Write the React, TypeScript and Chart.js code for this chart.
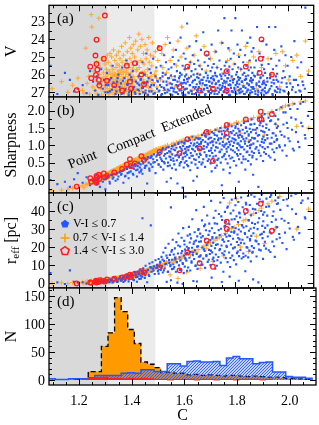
import React, { useEffect, useRef } from 'react';
import { Chart, registerables } from 'chart.js';
Chart.register(...registerables);

const W = 319;
const H = 425;
const FONT = '"Liberation Serif", "DejaVu Serif", serif';

// ---------- axes ----------
const C_MIN = 1.086;
const C_MAX = 2.1;
const C_TICKS = [1.2, 1.4, 1.6, 1.8, 2.0];
const POINT_END = 1.31;
const COMPACT_END = 1.49;

const V_TICKS = [23, 24, 25, 26, 27];
const SHARP_TICKS = [0.0, 0.5, 1.0, 1.5, 2.0];
const REFF_TICKS = [0, 10, 20, 30, 40];
const N_TICKS = [0, 50, 100, 150];

// ---------- histogram (bins of 0.025 starting at 1.085) ----------
const BIN_START = 1.085;
const BIN_WIDTH = 0.025;
const orangeCounts = [0, 0, 0, 0, 1, 2, 15, 15, 60, 84, 147, 122, 90, 65, 32, 28, 22, 13, 14, 12, 12, 9, 10, 8, 9, 8, 7, 8, 8, 7, 6, 7, 6, 5, 5, 4, 3, 3, 2, 1];
const blueCounts = [2, 1, 1, 2, 2, 2, 4, 8, 8, 8, 8, 12, 13, 12, 18, 18, 15, 15, 29, 29, 25, 33, 34, 32, 32, 33, 26, 39, 42, 38, 38, 29, 31, 32, 14, 14, 6, 5, 5, 3];
const redCounts = [0, 0, 0, 0, 0, 1, 3, 4, 5, 3, 3, 2, 3, 2, 3, 2, 1, 1, 0, 1, 1, 1, 0, 1, 1, 0, 1, 1, 0, 1, 1, 1, 0, 1, 0, 0, 0, 0, 0, 0];

// ---------- scatter points: [C, V, Sharpness, r_eff] ----------
const redPoints = [
  [1.192, 26.88, -0.19, -0.3], [1.244, 25.55, 0.05, 0.3], [1.248, 26.2, -0.05, 0.1], [1.264, 24.92, 0.0, 0.6],
  [1.268, 24.02, 0.12, 0.2], [1.268, 25.4, -0.08, 0.9], [1.271, 25.72, 0.08, 0.4], [1.266, 26.02, -0.02, 1.2],
  [1.277, 26.3, 0.15, 0.7], [1.279, 26.62, 0.03, 1.5], [1.296, 25.1, 0.19, 1.1], [1.3, 22.65, 0.07, 0.8],
  [1.308, 26.35, 0.12, 2.0], [1.336, 26.6, 0.22, 2.4], [1.366, 26.9, 0.32, 3.0], [1.384, 25.5, 0.45, 3.8],
  [1.396, 26.4, 0.6, 4.6], [1.4, 26.8, 0.4, 3.3], [1.415, 25.35, 0.48, 5.2], [1.44, 26.0, 0.69, 6.5],
  [1.45, 26.55, 0.58, 5.8], [1.51, 24.5, 0.81, 8.7], [1.586, 26.7, 0.77, 7.0], [1.616, 25.55, 1.18, 17],
  [1.663, 26.9, 0.91, 11], [1.69, 24.8, 1.39, 23.5], [1.714, 26.8, 0.55, 9], [1.767, 25.8, 1.59, 34],
  [1.767, 26.9, 1.35, 30], [1.84, 25.55, 1.75, 40], [1.897, 25.1, 1.97, 44], [1.893, 25.9, 1.75, 53],
  [1.9, 24.0, 1.75, 52], [1.94, 26.0, 1.9, 29],
];

const orangePoints = [
  [1.098, 26.8, -0.31, -0.5], [1.134, 26.4, -0.29, 0.1], [1.158, 27.0, -0.27, -0.3], [1.176, 26.6, -0.24, 0.2], [1.197, 26.2, -0.2, 0.0],
  [1.214, 26.9, -0.17, 0.4], [1.22, 27.05, -0.22, -0.2], [1.227, 24.5, -0.12, 0.3], [1.232, 26.5, -0.14, 0.8], [1.238, 26.1, -0.1, 0.1],
  [1.242, 27.1, -0.06, 0.5], [1.248, 22.6, -0.08, 1.0], [1.25, 23.3, -0.03, 0.2], [1.254, 26.7, -0.05, 0.7], [1.258, 25.8, 0.0, 0.4],
  [1.262, 26.9, -0.02, 0.9], [1.265, 26.3, 0.03, 0.2], [1.268, 25.3, 0.0, 1.1], [1.27, 27.1, 0.05, 0.6], [1.273, 26.6, -0.04, 0.3],
  [1.277, 22.8, 0.06, 1.2], [1.279, 26.0, 0.08, 0.5], [1.282, 25.6, 0.04, 0.9], [1.284, 26.8, 0.1, 1.4], [1.287, 27.15, 0.02, 0.4],
  [1.289, 26.4, 0.09, 1.0], [1.291, 25.1, 0.12, 0.7], [1.293, 26.2, 0.06, 1.6], [1.295, 25.9, 0.11, 0.2], [1.297, 26.95, 0.14, 1.1],
  [1.299, 26.6, 0.08, 0.8], [1.301, 25.4, 0.13, 1.3], [1.303, 26.1, 0.1, 0.5], [1.305, 27.0, 0.16, 1.8], [1.306, 25.7, 0.12, 1.0],
  [1.308, 26.5, 0.18, 1.4], [1.309, 24.9, 0.15, 0.6],
  [1.311, 26.8, 0.13, 1.2], [1.312, 26.0, 0.19, 0.8], [1.313, 25.3, 0.08, 1.6], [1.315, 26.4, 0.16, 1.1], [1.316, 27.1, 0.22, 0.5],
  [1.317, 25.8, 0.1, 1.9], [1.318, 26.6, 0.18, 1.3], [1.32, 24.8, 0.15, 0.9], [1.321, 26.2, 0.23, 1.5], [1.322, 26.9, 0.12, 2.1],
  [1.324, 25.5, 0.19, 1.0], [1.325, 26.5, 0.25, 1.7], [1.326, 25.0, 0.14, 1.2], [1.327, 27.0, 0.2, 0.7], [1.329, 26.1, 0.26, 1.8],
  [1.33, 25.7, 0.16, 1.4], [1.331, 26.7, 0.22, 2.3], [1.333, 24.6, 0.28, 1.1], [1.334, 26.3, 0.19, 1.6], [1.335, 25.9, 0.25, 2.0],
  [1.337, 27.15, 0.21, 1.3], [1.338, 25.2, 0.29, 1.9], [1.339, 26.6, 0.2, 2.5], [1.34, 26.0, 0.27, 1.5], [1.342, 25.6, 0.23, 2.2],
  [1.343, 26.85, 0.3, 1.7], [1.344, 24.9, 0.25, 2.6], [1.345, 26.4, 0.32, 1.9], [1.347, 25.4, 0.26, 1.4], [1.348, 26.2, 0.33, 2.4],
  [1.349, 27.0, 0.24, 2.0], [1.35, 25.8, 0.29, 2.8], [1.352, 26.5, 0.35, 1.8], [1.353, 24.7, 0.3, 2.3], [1.354, 26.1, 0.27, 2.9],
  [1.355, 25.5, 0.36, 2.1], [1.357, 26.7, 0.31, 2.6], [1.358, 25.1, 0.37, 1.9], [1.359, 26.3, 0.32, 3.0], [1.36, 27.1, 0.38, 2.4],
  [1.361, 25.9, 0.33, 2.7], [1.362, 26.6, 0.27, 2.2], [1.364, 24.4, 0.36, 3.1], [1.365, 26.0, 0.31, 2.5], [1.366, 25.3, 0.39, 2.9],
  [1.367, 26.9, 0.34, 2.0], [1.369, 25.7, 0.41, 3.3], [1.37, 26.4, 0.35, 2.6], [1.371, 24.9, 0.37, 3.5], [1.372, 26.2, 0.43, 2.8],
  [1.374, 27.05, 0.36, 3.1], [1.375, 25.5, 0.39, 2.4], [1.376, 26.7, 0.44, 3.7], [1.378, 24.2, 0.38, 2.9], [1.379, 26.1, 0.41, 3.4],
  [1.38, 25.2, 0.46, 3.0], [1.382, 26.5, 0.4, 2.7], [1.383, 25.8, 0.45, 3.9], [1.384, 26.85, 0.42, 3.2], [1.386, 24.7, 0.48, 3.6],
  [1.387, 26.3, 0.43, 2.9], [1.388, 25.4, 0.47, 4.1], [1.39, 26.0, 0.41, 3.3], [1.391, 27.1, 0.49, 3.8], [1.392, 25.6, 0.45, 3.0],
  [1.394, 23.9, 0.51, 4.2], [1.395, 26.6, 0.46, 3.5], [1.396, 25.1, 0.43, 4.0], [1.398, 26.2, 0.5, 3.4], [1.399, 24.5, 0.47, 4.4],
  [1.4, 25.9, 0.53, 3.7], [1.401, 26.8, 0.44, 3.1], [1.403, 25.3, 0.51, 4.5], [1.404, 26.4, 0.48, 3.9], [1.405, 24.8, 0.54, 4.2],
  [1.406, 25.7, 0.49, 3.6], [1.407, 27.0, 0.52, 4.8], [1.408, 26.1, 0.56, 4.0], [1.409, 24.3, 0.5, 3.8], [1.41, 25.5, 0.55, 4.6],
  [1.412, 26.3, 0.52, 4.1], [1.414, 25.0, 0.57, 4.9], [1.416, 26.7, 0.5, 3.9], [1.418, 24.1, 0.59, 5.3], [1.42, 25.8, 0.55, 4.5],
  [1.422, 26.9, 0.53, 4.0], [1.424, 25.3, 0.61, 5.5], [1.426, 24.6, 0.57, 4.8], [1.428, 26.1, 0.63, 5.1], [1.43, 23.7, 0.58, 4.4],
  [1.432, 25.6, 0.62, 5.8], [1.434, 26.5, 0.59, 4.9], [1.436, 24.4, 0.65, 6.0], [1.438, 25.2, 0.6, 5.2], [1.44, 26.8, 0.64, 5.6],
  [1.442, 24.0, 0.67, 6.3], [1.444, 25.9, 0.62, 5.0], [1.446, 26.3, 0.69, 6.5], [1.448, 24.8, 0.65, 5.7], [1.45, 25.4, 0.7, 6.1],
  [1.452, 27.05, 0.64, 5.4], [1.454, 24.3, 0.71, 6.8], [1.456, 26.0, 0.67, 6.2], [1.458, 25.1, 0.73, 7.0], [1.46, 26.6, 0.68, 5.9],
  [1.462, 24.6, 0.72, 6.6], [1.464, 25.7, 0.75, 7.2], [1.466, 26.4, 0.7, 6.1], [1.468, 23.9, 0.77, 7.5], [1.47, 25.3, 0.73, 6.9],
  [1.473, 26.9, 0.79, 7.8], [1.475, 24.9, 0.75, 7.1], [1.477, 26.1, 0.81, 8.0], [1.48, 25.5, 0.77, 7.4], [1.482, 24.2, 0.83, 8.4],
  [1.485, 26.5, 0.79, 7.7], [1.487, 25.0, 0.85, 8.7], [1.49, 26.0, 0.8, 8.1], [1.493, 24.7, 0.87, 9.0], [1.496, 25.8, 0.83, 8.5],
  [1.499, 26.7, 0.89, 9.3], [1.503, 25.2, 0.85, 8.8], [1.507, 24.5, 0.91, 9.6],
  [1.513, 26.3, 0.92, 9.9], [1.518, 24.8, 0.86, 10.5], [1.522, 25.6, 0.95, 9.2], [1.527, 26.9, 0.9, 11.0], [1.531, 24.3, 0.98, 10.1],
  [1.536, 25.9, 0.94, 11.6], [1.54, 23.9, 1.0, 10.8], [1.545, 26.5, 0.96, 12.0], [1.55, 25.2, 0.78, 4.5], [1.556, 26.1, 1.03, 11.4],
  [1.562, 24.6, 1.05, 12.7], [1.568, 26.7, 1.0, 12.2], [1.574, 25.5, 1.08, 13.5], [1.58, 24.1, 0.7, 2.5], [1.586, 26.4, 1.1, 13.0],
  [1.592, 25.0, 1.12, 14.4], [1.595, 23.3, 1.06, 13.8], [1.6, 26.8, 1.15, 14.9], [1.607, 25.7, 1.13, 15.6], [1.614, 24.5, 0.88, 6.0],
  [1.62, 26.2, 1.18, 16.3], [1.628, 25.3, 1.21, 15.8], [1.635, 26.9, 1.16, 17.2], [1.642, 24.9, 1.24, 17.9], [1.65, 23.8, 1.22, 16.8],
  [1.657, 26.0, 1.27, 18.6], [1.665, 25.5, 0.95, 8.0], [1.672, 26.6, 1.3, 19.8], [1.68, 24.4, 1.33, 20.5], [1.688, 25.8, 1.28, 19.2],
  [1.696, 26.9, 1.36, 21.6], [1.705, 25.1, 1.4, 22.4], [1.714, 26.4, 1.1, 12.0], [1.722, 24.7, 1.43, 23.8], [1.73, 25.6, 1.46, 24.6],
  [1.738, 26.8, 1.42, 25.4], [1.746, 24.2, 1.5, 26.2], [1.755, 25.9, 1.2, 15.0], [1.762, 26.5, 1.53, 27.6], [1.77, 25.2, 1.56, 28.8],
  [1.778, 24.6, 1.6, 44.5], [1.786, 26.2, 1.58, 30.2], [1.795, 25.4, 1.62, 31.0], [1.804, 26.9, 1.66, 46.8], [1.812, 24.9, 1.64, 32.5],
  [1.82, 25.7, 1.35, 20.0], [1.83, 26.6, 1.7, 34.6], [1.84, 24.4, 1.73, 35.2], [1.85, 25.3, 1.12, 17.5], [1.86, 26.3, 1.76, 37.8],
  [1.87, 25.0, 1.8, 38.5], [1.88, 26.8, 1.45, 26.0], [1.89, 24.7, 1.84, 40.2], [1.9, 25.6, 1.87, 41.6], [1.912, 26.4, 1.3, 22.0],
  [1.925, 25.1, 1.92, 44.0], [1.94, 26.0, 1.98, 45.5], [1.955, 24.8, 1.6, 31.0], [1.97, 26.7, 2.05, 48.0], [1.98, 24.7, 2.1, 53.0],
  [1.992, 25.5, 2.14, 55.0], [2.005, 26.3, 2.16, 58.0], [2.02, 25.2, 2.2, 60.0], [2.035, 24.9, 1.55, 30.0], [2.05, 26.1, 2.25, 62.0],
  [2.068, 24.1, 2.28, 65.0], [2.08, 25.8, 1.5, 41.0],
];

const orangeFaint = [
  [1.302, 26.75, 0.1, 0.9], [1.307, 26.3, 0.14, 1.3], [1.314, 27.05, 0.12, 0.7], [1.319, 26.55, 0.18, 1.5], [1.323, 25.95, 0.15, 1.1],
  [1.328, 26.85, 0.21, 1.8], [1.332, 26.4, 0.19, 1.3], [1.336, 27.1, 0.24, 2.1], [1.341, 26.65, 0.22, 1.6], [1.346, 26.1, 0.28, 2.2],
  [1.351, 26.95, 0.26, 1.9], [1.356, 26.45, 0.3, 2.5], [1.358, 25.75, 0.33, 2.1], [1.363, 26.8, 0.31, 2.8], [1.368, 26.25, 0.35, 2.4],
  [1.373, 27.0, 0.38, 3.1], [1.377, 26.55, 0.36, 2.7], [1.381, 25.9, 0.41, 3.3], [1.385, 26.95, 0.39, 2.9], [1.389, 26.35, 0.44, 3.6],
  [1.393, 26.75, 0.42, 3.2], [1.397, 27.15, 0.47, 3.9], [1.402, 26.15, 0.45, 3.5], [1.406, 26.6, 0.5, 4.2], [1.411, 27.0, 0.48, 3.8],
  [1.415, 26.3, 0.53, 4.6], [1.419, 26.85, 0.51, 4.2], [1.423, 25.7, 0.56, 4.9], [1.427, 26.5, 0.54, 4.5], [1.431, 27.05, 0.59, 5.3],
  [1.435, 26.2, 0.57, 4.9], [1.439, 26.7, 0.62, 5.7], [1.443, 26.95, 0.6, 5.2], [1.447, 26.4, 0.65, 6.1], [1.451, 25.85, 0.63, 5.6],
  [1.455, 26.6, 0.68, 6.5], [1.459, 27.1, 0.66, 6.0], [1.463, 26.1, 0.71, 6.9], [1.468, 26.75, 0.69, 6.4], [1.474, 26.3, 0.75, 7.4],
  [1.48, 26.9, 0.78, 7.9], [1.486, 26.45, 0.81, 8.3], [1.492, 27.0, 0.84, 8.8], [1.498, 26.2, 0.86, 9.1],
  [1.338, 26.05, 0.2, 1.7], [1.344, 26.55, 0.3, 2.0], [1.347, 26.75, 0.24, 2.6], [1.339, 26.9, 0.27, 2.2], [1.352, 25.95, 0.32, 1.6],
  [1.342, 26.3, 0.29, 2.9], [1.318, 26.95, 0.16, 1.0], [1.326, 26.2, 0.2, 1.4], [1.366, 26.7, 0.37, 2.6], [1.372, 25.85, 0.32, 3.0],
  [1.379, 26.45, 0.42, 3.3],
];

const bluePoints = [
  [1.092, 25.5, 0.0, 5.5], [1.118, 27.1, -0.12, 0.3], [1.147, 25.9, -0.05, -0.6], [1.166, 26.3, -0.2, 7.0], [1.182, 26.95, 0.02, 0.6], [1.196, 26.8, 0.2, 0.1],
  [1.215, 26.6, -0.08, 0.4], [1.23, 27.05, 0.08, -0.4], [1.243, 25.8, -0.15, 1.2], [1.255, 26.4, -0.03, 0.0],
  [1.263, 26.9, 0.0, 0.5], [1.269, 26.1, -0.12, 1.4], [1.275, 27.15, 0.05, 0.2], [1.281, 26.5, -0.2, 0.9], [1.286, 25.7, 0.1, 2.5],
  [1.292, 26.8, -0.05, 0.1], [1.297, 26.3, 0.02, 1.0], [1.302, 27.0, -0.27, 0.4], [1.308, 25.9, 0.07, 1.6], [1.313, 26.6, 0.12, 0.8],
  [1.319, 26.95, -0.1, 2.2], [1.324, 26.2, 0.15, 1.2], [1.33, 25.5, 0.04, 0.3], [1.336, 26.7, 0.18, 2.9], [1.341, 27.1, -0.02, 1.5],
  [1.347, 26.4, 0.2, 0.6], [1.352, 26.0, 0.1, 2.0], [1.358, 26.85, 0.24, 3.5],
  [1.362, 26.5, 0.15, 1.3], [1.366, 25.6, 0.26, 2.4], [1.371, 27.05, -0.08, 0.5], [1.375, 26.2, 0.3, 3.6], [1.379, 26.8, 0.12, 1.8],
  [1.383, 25.2, 0.35, 4.2], [1.387, 26.6, 0.2, 2.6], [1.391, 27.15, 0.05, 0.9], [1.395, 26.0, 0.38, 3.9], [1.399, 26.9, 0.25, 5.1],
  [1.403, 26.3, 0.42, 2.9], [1.407, 25.8, 0.18, 4.4], [1.411, 26.7, 0.33, 1.6], [1.415, 27.0, 0.46, 5.7], [1.419, 26.4, 0.28, 3.2],
  [1.423, 25.4, 0.1, 0.7], [1.426, 26.85, 0.4, 6.3], [1.429, 26.1, 0.5, 4.8], [1.432, 26.6, 0.22, 2.2], [1.434, 27.1, 0.36, 7.5],
  [1.437, 26.3, 0.45, 4.1], [1.44, 25.9, 0.3, 6.7], [1.443, 26.75, 0.55, 3.5], [1.444, 25.3, 0.18, 36.0], [1.447, 27.0, 0.48, 8.2],
  [1.45, 26.5, 0.62, 5.4], [1.453, 26.0, 0.35, 2.8], [1.456, 26.9, 0.58, 9.6], [1.459, 24.8, 0.42, 6.0], [1.462, 26.4, -0.1, 0.4],
  [1.465, 27.15, 0.66, 7.3], [1.468, 26.2, 0.5, 4.5], [1.471, 25.7, 0.27, 10.8], [1.474, 26.7, 0.64, 8.8], [1.476, 25.9, 0.45, 32.0],
  [1.479, 26.95, 0.7, 6.2], [1.482, 26.3, 0.38, 11.5], [1.485, 25.1, 0.6, 7.9], [1.488, 26.6, 0.74, 9.2], [1.491, 27.05, 0.52, 5.0],
  [1.494, 26.1, 0.2, 12.6], [1.497, 25.6, 0.68, 8.4], [1.5, 26.8, 0.57, 10.1], [1.503, 26.4, 0.78, 6.6], [1.506, 24.4, 0.44, 13.3],
  [1.509, 26.9, 0.72, 9.0],
  [1.512, 26.2, 0.65, 11.8], [1.514, 25.5, 0.38, 7.2], [1.517, 26.7, 0.85, 14.5], [1.519, 27.1, 0.55, 9.4], [1.522, 25.9, 0.92, 5.8],
  [1.524, 26.4, 0.3, 16.9], [1.527, 24.9, 0.7, 12.3], [1.529, 26.85, 0.48, 8.1], [1.532, 26.0, 0.88, 19.5], [1.534, 25.3, 0.62, 10.7],
  [1.537, 26.6, -0.05, 0.6], [1.539, 27.0, 0.78, 13.9], [1.542, 26.2, 0.5, 6.4], [1.544, 25.7, 0.95, 21.8], [1.547, 26.9, 0.68, 11.1],
  [1.549, 24.2, 0.42, 15.6], [1.551, 26.5, 0.82, 9.3], [1.553, 26.05, 0.58, 42.0], [1.555, 25.6, 0.9, 17.4], [1.557, 26.75, 0.34, 7.7],
  [1.558, 27.15, 0.74, 12.9], [1.56, 25.0, 0.97, 24.0],
  [1.562, 26.3, 0.62, 10.4], [1.564, 26.8, 0.88, 15.8], [1.566, 25.4, 0.45, 8.9], [1.568, 26.1, 1.02, 19.2], [1.57, 27.0, 0.7, 13.1],
  [1.572, 24.6, 0.3, 6.2], [1.574, 26.6, 0.93, 22.7], [1.576, 25.8, 0.57, 11.6], [1.578, 26.4, -0.1, 0.2], [1.58, 27.1, 0.8, 16.4],
  [1.582, 25.2, 1.08, 27.5], [1.584, 26.2, 0.66, 9.8], [1.586, 26.9, 0.42, 14.2], [1.588, 25.9, 0.95, 20.3], [1.59, 23.9, 0.74, 12.5],
  [1.592, 26.5, 0.52, 7.4], [1.594, 26.0, 1.1, 25.1], [1.596, 27.05, 0.85, 17.7], [1.598, 25.5, 0.6, 11.0], [1.6, 26.7, 0.98, 30.5],
  [1.602, 24.8, 0.36, 5.5], [1.603, 26.3, 0.77, 15.1], [1.605, 26.85, 1.05, 21.4], [1.606, 25.7, 0.5, 9.1], [1.607, 26.1, 0.9, 18.6],
  [1.608, 27.15, 0.68, 13.8], [1.609, 25.1, 1.14, 48.0], [1.61, 26.5, 0.82, 16.0],
  [1.612, 26.0, 0.55, 12.4], [1.614, 26.8, 0.95, 20.1], [1.615, 23.1, 0.73, 16.7], [1.617, 26.4, 1.12, 26.3], [1.619, 25.6, 0.4, 8.6],
  [1.62, 27.0, 0.86, 18.9], [1.622, 26.2, 1.2, 31.2], [1.624, 24.4, 0.64, 14.0], [1.625, 26.6, 0.98, 22.5], [1.627, 25.3, 0.28, 6.9],
  [1.629, 26.9, 0.78, 17.3], [1.63, 26.1, 1.06, 24.8], [1.632, 25.8, 0.5, 11.2], [1.634, 27.1, 0.9, 19.6], [1.635, 26.45, 1.25, 35.4],
  [1.637, 24.9, 0.7, 15.5], [1.639, 26.7, -0.02, 1.1], [1.64, 26.0, 1.0, 21.7], [1.642, 25.4, 0.6, 13.3], [1.644, 26.8, 1.16, 28.2],
  [1.645, 26.3, 0.83, 18.1], [1.647, 25.7, 0.45, 9.5], [1.649, 27.05, 0.96, 23.6], [1.65, 24.1, 1.22, 40.5], [1.652, 26.55, 0.74, 16.2],
  [1.654, 25.95, 1.08, 25.9], [1.655, 26.85, 0.35, 7.8], [1.657, 25.2, 0.9, 20.4], [1.659, 26.2, 1.18, 30.0], [1.66, 26.7, 0.66, 14.6],
  [1.661, 27.15, 1.03, 22.9], [1.662, 25.5, 0.52, 11.9], [1.663, 26.4, 0.88, 55.0],
  [1.665, 26.0, 1.2, 27.4], [1.667, 26.9, 0.72, 15.3], [1.668, 24.6, 1.05, 23.1], [1.67, 26.3, 0.45, 10.2], [1.672, 25.7, 1.3, 34.8],
  [1.674, 27.0, 0.9, 19.7], [1.675, 26.5, 1.15, 26.0], [1.677, 23.6, 0.6, 13.5], [1.679, 26.15, 0.98, 42.3], [1.68, 26.8, 1.36, 31.6],
  [1.682, 25.3, 0.8, 17.8], [1.684, 26.6, 0.38, 8.4], [1.685, 27.1, 1.1, 24.5], [1.687, 25.9, 1.25, 29.3], [1.689, 26.35, 0.68, 14.9],
  [1.69, 24.9, 0.95, 21.2], [1.692, 26.75, 1.4, 37.5], [1.694, 26.05, 0.55, 11.7], [1.695, 25.5, 1.02, 58.0], [1.697, 26.95, 1.18, 26.7],
  [1.699, 26.4, 0.84, 18.4], [1.7, 25.1, 1.32, 33.0], [1.702, 26.65, 0.7, 16.1], [1.704, 27.05, 1.08, 23.8], [1.705, 25.8, 0.48, 9.9],
  [1.707, 26.2, 1.22, 45.6], [1.708, 26.85, 0.92, 20.6], [1.709, 24.3, 0.25, 3.0], [1.71, 26.5, 1.38, 30.4], [1.711, 25.6, 0.78, 17.0],
  [1.712, 26.95, 1.12, 25.5], [1.713, 26.1, 0.62, 13.2],
  [1.715, 26.7, 1.0, 22.4], [1.717, 25.4, 1.35, 36.2], [1.718, 26.3, 0.55, 12.1], [1.72, 27.1, 1.18, 27.8], [1.722, 25.9, 0.85, 19.3],
  [1.724, 26.55, 1.45, 40.1], [1.725, 24.7, 0.7, 15.8], [1.727, 26.9, 1.08, 25.2], [1.729, 26.1, 0.42, 9.6], [1.73, 25.6, 1.28, 32.9],
  [1.732, 26.75, 0.93, 21.5], [1.734, 23.5, 1.15, 61.0], [1.735, 26.4, 0.62, 14.4], [1.737, 27.0, 1.4, 38.3], [1.739, 25.2, 0.8, 18.2],
  [1.74, 26.6, 1.05, 26.6], [1.742, 26.0, 1.5, 44.7], [1.744, 26.85, 0.5, 11.3], [1.745, 25.7, 1.2, 30.1], [1.747, 26.25, 0.88, 20.8],
  [1.749, 27.15, 1.32, 35.0], [1.75, 24.2, 0.66, 16.5], [1.752, 26.5, 1.1, 24.3], [1.754, 25.95, 0.3, 6.2], [1.755, 26.95, 1.42, 47.2],
  [1.757, 26.35, 0.96, 22.9], [1.758, 22.8, 1.25, 31.4], [1.759, 25.5, 0.75, 17.6], [1.76, 26.7, 1.52, 39.5], [1.761, 26.05, 1.02, 27.0],
  [1.763, 26.8, 0.6, 13.8], [1.764, 25.3, 1.3, 34.1], [1.766, 26.4, 1.05, 25.7], [1.767, 27.05, 0.82, 20.0], [1.769, 25.8, 1.45, 41.8],
  [1.77, 26.2, 0.48, 11.6], [1.771, 26.9, 1.18, 29.5], [1.773, 24.5, 0.95, 23.3], [1.774, 26.6, 1.6, 62.0], [1.776, 26.0, 0.7, 16.9],
  [1.777, 25.55, 1.25, 32.6], [1.779, 27.15, 1.02, 26.1], [1.78, 26.35, 0.36, 8.9], [1.782, 25.1, 1.38, 38.7], [1.783, 26.75, 0.88, 21.4],
  [1.785, 23.5, 1.12, 28.3], [1.786, 26.1, 1.55, 46.3], [1.788, 26.95, 0.65, 15.2], [1.789, 25.7, 1.2, 31.0], [1.791, 26.45, 0.98, 24.6],
  [1.792, 27.0, 1.42, 40.3], [1.794, 24.8, 0.55, 12.7], [1.795, 26.25, 1.08, 27.9], [1.797, 26.85, 1.3, 35.5], [1.798, 25.4, 0.8, 19.8],
  [1.8, 22.8, 1.5, 43.2], [1.801, 26.6, 1.15, 30.4], [1.803, 26.0, 0.42, 10.3], [1.804, 27.1, 1.35, 37.1], [1.806, 25.85, 0.92, 22.8],
  [1.807, 26.4, 1.62, 68.0], [1.808, 24.3, 1.05, 26.9], [1.809, 26.7, 0.7, 17.4], [1.81, 26.15, 1.28, 33.8], [1.811, 25.6, 1.48, 45.0],
  [1.812, 26.9, 0.86, 21.1], [1.813, 26.3, 1.22, 29.7], [1.814, 25.0, 0.6, 14.9], [1.815, 26.55, 1.4, 39.1], [1.816, 27.05, 1.0, 24.2],
  [1.818, 26.2, 1.3, 36.4], [1.819, 24.6, 0.75, 18.3], [1.821, 26.8, 1.12, 28.6], [1.822, 25.7, 1.58, 47.5], [1.824, 26.4, 0.5, 13.6],
  [1.825, 23.5, 1.25, 32.2], [1.827, 26.95, 0.95, 24.0], [1.828, 26.0, 1.45, 42.1], [1.83, 25.3, 0.68, 16.4], [1.831, 26.65, 1.18, 30.8],
  [1.833, 27.1, 1.65, 71.0], [1.834, 25.9, 0.88, 21.9], [1.836, 26.3, 1.35, 38.2], [1.837, 24.9, 1.05, 27.3], [1.839, 26.75, 0.6, 15.1],
  [1.84, 26.1, 1.52, 44.6], [1.842, 25.5, 1.2, 31.5], [1.843, 27.0, 0.8, 19.9], [1.845, 26.5, 1.4, 40.7], [1.846, 24.2, 0.98, 25.4],
  [1.848, 26.85, 1.7, 48.3], [1.849, 26.05, 0.55, 14.2], [1.851, 25.75, 1.28, 34.7], [1.852, 26.6, 1.1, 29.0], [1.854, 27.15, 0.72, 18.0],
  [1.855, 25.2, 1.48, 43.3], [1.856, 26.35, 0.92, 23.7], [1.857, 23.9, 1.6, 52.0], [1.858, 26.9, 1.15, 30.1], [1.859, 25.6, 0.45, 12.0],
  [1.86, 26.2, 1.38, 37.6], [1.861, 26.7, 1.02, 26.2], [1.862, 24.7, 1.75, 75.0], [1.863, 26.45, 0.82, 20.5], [1.864, 27.0, 1.22, 33.4],
  [1.865, 25.9, 0.65, 16.8],
  [1.867, 26.3, 1.45, 41.2], [1.869, 24.5, 1.05, 27.6], [1.871, 26.8, 0.78, 19.4], [1.873, 25.6, 1.62, 47.9], [1.875, 26.1, 1.2, 32.8],
  [1.877, 27.1, 0.9, 23.5], [1.879, 25.2, 1.35, 38.9], [1.881, 26.6, 0.6, 14.7], [1.883, 23.3, 1.5, 44.0], [1.885, 26.0, 1.12, 29.9],
  [1.887, 26.9, 1.78, 80.0], [1.889, 25.8, 0.85, 21.6], [1.891, 26.4, 1.3, 36.0], [1.893, 24.8, 1.58, 46.5], [1.895, 26.7, 1.0, 26.8],
  [1.897, 26.15, 0.7, 18.1], [1.899, 27.05, 1.42, 40.0], [1.901, 25.45, 1.85, 49.2], [1.903, 26.55, 1.18, 31.7], [1.904, 24.1, 0.95, 24.9],
  [1.905, 26.85, 1.55, 45.2], [1.906, 26.05, 0.55, 13.4], [1.907, 25.0, 1.25, 34.3], [1.908, 26.35, 1.7, 58.0], [1.909, 27.15, 1.08, 28.4],
  [1.91, 25.7, 0.8, 20.7], [1.911, 26.5, 1.38, 39.3], [1.912, 26.95, 1.9, 66.0],
  [1.914, 25.9, 1.15, 30.6], [1.917, 26.6, 0.75, 19.1], [1.919, 24.3, 1.6, 46.9], [1.922, 26.2, 1.3, 37.4], [1.924, 27.0, 0.95, 25.8],
  [1.927, 25.4, 1.8, 62.0], [1.929, 23.3, 1.45, 42.6], [1.932, 26.8, 1.05, 28.1], [1.934, 26.0, 0.65, 17.2], [1.937, 25.1, 1.72, 48.8],
  [1.939, 26.45, 1.22, 33.9], [1.942, 27.1, 0.88, 23.0], [1.944, 25.7, 1.95, 71.0], [1.946, 26.3, 1.35, 39.7], [1.949, 24.6, 1.1, 29.4],
  [1.951, 26.9, 0.58, 14.5], [1.953, 23.3, 1.62, 45.8], [1.955, 26.1, 1.28, 35.2], [1.957, 25.5, 2.02, 56.0], [1.958, 26.7, 0.92, 24.3],
  [1.959, 27.0, 1.5, 43.9], [1.96, 25.95, 1.18, 31.1],
  [1.964, 26.4, 1.75, 47.4], [1.968, 25.2, 1.0, 27.2], [1.972, 26.85, 1.4, 40.6], [1.976, 24.4, 2.1, 64.0], [1.98, 26.2, 0.85, 22.2],
  [1.984, 25.8, 1.6, 46.1], [1.988, 26.95, 1.25, 34.6], [1.992, 24.9, 1.95, 52.0], [1.996, 26.5, 0.7, 18.8], [2.0, 25.5, 1.5, 42.9],
  [2.004, 27.05, 2.15, 70.0], [2.008, 26.1, 1.12, 30.3],
  [2.014, 25.0, 1.8, 48.5], [2.02, 26.7, 0.9, 25.6], [2.026, 24.1, 2.2, 66.0], [2.032, 26.3, 1.38, 38.4], [2.038, 25.6, 2.05, 57.0],
  [2.045, 26.9, 0.95, 27.7], [2.052, 25.3, 1.65, 44.5], [2.06, 26.6, 2.25, 73.0], [2.068, 22.2, 1.2, 35.8], [2.078, 26.0, 1.85, 47.0],
];

const blueFaint = [
  [1.304, 26.6, 0.05, 0.9], [1.311, 27.0, 0.1, 1.3], [1.318, 26.3, -0.05, 0.5], [1.327, 26.85, 0.14, 1.9], [1.333, 26.45, 0.08, 1.0],
  [1.344, 26.95, 0.16, 2.3], [1.349, 26.2, 0.02, 0.8], [1.356, 26.7, 0.22, 2.7], [1.364, 27.1, 0.18, 1.7], [1.369, 26.35, 0.28, 3.1],
  [1.377, 26.9, 0.1, 1.2], [1.385, 26.55, 0.32, 3.4], [1.393, 27.0, 0.22, 2.3], [1.401, 26.15, 0.36, 4.0], [1.409, 26.8, 0.15, 1.9],
  [1.417, 27.1, 0.4, 4.6], [1.425, 26.5, 0.3, 3.3], [1.431, 26.9, 0.48, 5.2], [1.438, 26.25, 0.25, 2.4], [1.446, 26.75, 0.52, 6.0],
  [1.455, 27.05, 0.4, 4.3], [1.463, 26.45, 0.6, 7.1], [1.47, 26.95, 0.33, 3.9], [1.478, 26.6, 0.66, 8.5], [1.486, 27.1, 0.5, 6.8],
  [1.501, 26.35, 0.72, 9.6], [1.506, 26.95, 0.45, 5.2], [1.511, 26.6, 0.8, 11.2], [1.516, 27.15, 0.6, 8.3], [1.521, 26.1, 0.88, 13.0],
  [1.526, 26.75, 0.52, 7.0], [1.531, 27.05, 0.75, 10.4], [1.536, 26.4, 0.93, 15.2], [1.541, 26.85, 0.4, 6.1], [1.546, 26.2, 0.83, 12.7],
  [1.551, 27.1, 0.66, 9.9], [1.557, 26.55, 0.98, 18.3], [1.563, 26.95, 0.55, 8.0], [1.569, 26.3, 0.86, 14.1], [1.575, 27.0, 0.72, 11.5],
  [1.581, 26.65, 1.04, 20.8], [1.587, 26.1, 0.48, 7.3], [1.593, 26.9, 0.9, 16.5], [1.599, 27.15, 0.65, 10.6], [1.604, 26.45, 1.08, 23.4],
  [1.609, 26.8, 0.78, 13.2], [1.615, 26.25, 0.44, 6.8], [1.621, 27.05, 0.95, 19.4], [1.626, 26.6, 1.15, 27.0], [1.632, 26.95, 0.7, 12.0],
  [1.638, 26.35, 0.88, 16.9], [1.643, 27.1, 1.05, 23.0], [1.648, 26.7, 0.58, 9.7], [1.653, 26.15, 0.98, 20.2], [1.658, 26.9, 1.2, 29.5],
  [1.664, 26.5, 0.76, 14.8], [1.669, 27.0, 1.1, 25.3], [1.674, 26.3, 0.5, 10.1], [1.679, 26.85, 0.9, 18.7], [1.684, 27.15, 1.28, 32.4],
  [1.689, 26.6, 0.72, 15.5], [1.694, 26.2, 1.05, 22.6], [1.698, 26.95, 0.6, 12.9], [1.701, 26.4, 1.22, 28.8], [1.706, 27.05, 0.85, 18.0],
  [1.712, 26.7, 1.1, 24.7], [1.716, 26.25, 0.68, 14.1], [1.721, 26.95, 1.3, 33.1], [1.726, 26.5, 0.95, 21.2], [1.731, 27.1, 0.58, 12.6],
  [1.736, 26.35, 1.2, 29.4], [1.741, 26.85, 0.82, 18.9], [1.746, 26.1, 1.4, 37.0], [1.751, 26.65, 1.0, 23.9], [1.756, 27.0, 0.7, 15.7],
  [1.761, 26.45, 1.28, 31.8], [1.766, 26.9, 0.9, 20.6], [1.771, 26.2, 1.48, 42.5], [1.776, 27.15, 1.1, 26.4], [1.781, 26.6, 0.62, 13.9],
  [1.786, 26.95, 1.35, 35.3], [1.791, 26.3, 0.85, 19.2], [1.796, 26.75, 1.18, 28.7], [1.801, 27.05, 1.55, 47.1], [1.806, 26.5, 0.75, 16.6],
  [1.811, 26.15, 1.05, 25.0], [1.816, 26.85, 1.42, 38.6], [1.821, 27.0, 0.95, 22.3], [1.826, 26.4, 1.25, 31.9], [1.831, 26.7, 0.6, 14.4],
  [1.836, 27.1, 1.12, 27.8], [1.841, 26.25, 1.5, 43.7], [1.846, 26.9, 0.82, 19.6], [1.851, 26.55, 1.32, 34.9], [1.856, 27.05, 1.0, 24.4],
  [1.861, 26.35, 1.6, 49.0], [1.866, 26.8, 0.7, 17.3], [1.871, 26.05, 1.2, 30.7], [1.876, 26.95, 1.45, 40.9], [1.881, 26.5, 0.95, 23.1],
  [1.886, 27.15, 1.28, 33.6], [1.891, 26.65, 0.78, 18.5], [1.896, 26.2, 1.65, 53.0], [1.901, 26.9, 1.1, 27.3], [1.906, 26.45, 1.4, 38.0],
  [1.723, 26.05, 0.35, 8.0], [1.748, 26.75, -0.15, 0.5], [1.778, 26.55, 0.2, 3.5], [1.813, 26.9, -0.05, 1.2], [1.838, 26.3, 0.3, 6.5],
  [1.868, 26.7, 0.15, 2.0], [1.888, 27.0, -0.2, 0.3], [1.653, 26.9, 0.1, 0.8], [1.598, 26.5, -0.22, -0.5], [1.553, 26.75, 0.05, 1.5],
  [1.913, 26.75, 0.9, 22.9], [1.918, 27.05, 1.5, 42.3], [1.923, 26.4, 1.2, 32.0], [1.928, 26.9, 0.7, 18.2], [1.933, 26.2, 1.7, 47.8],
  [1.938, 26.65, 1.05, 27.5], [1.943, 27.15, 1.35, 37.2], [1.948, 26.5, 0.8, 20.4], [1.953, 26.95, 1.85, 58.0], [1.958, 26.3, 1.15, 30.9],
  [1.963, 26.8, 1.55, 44.2], [1.97, 27.0, 0.95, 25.1], [1.977, 26.45, 1.3, 35.7], [1.984, 26.9, 1.95, 63.0], [1.99, 26.15, 1.0, 28.0],
  [1.997, 26.7, 1.65, 46.5], [2.003, 27.1, 1.2, 33.3], [2.01, 26.5, 2.05, 67.0], [2.017, 26.85, 1.45, 41.0], [2.024, 26.3, 0.85, 24.0],
  [2.031, 27.0, 1.75, 49.5], [2.04, 26.6, 1.1, 31.2], [2.049, 26.95, 2.2, 70.0], [2.057, 26.4, 1.55, 45.8], [2.066, 26.8, 1.3, 36.5],
];

// ---------- style ----------
const BLUE = '#2457ff';
const ORANGE_PT = '#ffa733';
const ORANGE_BAR = '#ff9a00';
const RED = '#ff1f1f';
const SHADE_DARK = '#d9d9d9';
const SHADE_LIGHT = '#ebebeb';

const PLOT_LEFT = 49;
const PLOT_RIGHT = 316;
const PANEL_Y = [
  [2, 97],
  [97, 193],
  [193, 288],
  [288, 385],
];

const TICK_FONT = `14px ${FONT}`;
const TITLE_FONT = `16px ${FONT}`;
const LETTER_FONT = `15px ${FONT}`;

function histPoints(counts: number[]) {
  const first = counts.findIndex((c) => c > 0);
  let last = counts.length - 1;
  while (last > 0 && counts[last] === 0) last--;
  const edge = (i: number) => BIN_START + i * BIN_WIDTH;
  const pts = [{ x: edge(first), y: 0 }];
  for (let i = first; i <= last; i++) pts.push({ x: edge(i), y: counts[i] });
  pts.push({ x: edge(last + 1), y: counts[last] });
  pts.push({ x: edge(last + 1), y: 0 });
  return pts;
}

function hatchPattern(color: string) {
  const c = document.createElement('canvas');
  c.width = 3;
  c.height = 3;
  const g = c.getContext('2d')!;
  g.strokeStyle = color;
  g.lineWidth = 1.1;
  g.beginPath();
  g.moveTo(0, 3);
  g.lineTo(3, 0);
  g.moveTo(-1, 1);
  g.lineTo(1, -1);
  g.moveTo(2, 4);
  g.lineTo(4, 2);
  g.stroke();
  return g.createPattern(c, 'repeat');
}

type Deco = {
  yTicks: number[];
  yMinor: number;
  fmt: (v: number) => string;
  letter: string;
  title: (ctx: CanvasRenderingContext2D, cy: number) => void;
  xLabels?: boolean;
  extra?: (chart: any) => void;
};

function decor(d: Deco) {
  return {
    id: 'decor',
    beforeDatasetsDraw(chart: any) {
      const { ctx, chartArea: a, scales } = chart;
      const x = scales.x;
      const x1 = x.getPixelForValue(POINT_END);
      const x2 = x.getPixelForValue(COMPACT_END);
      ctx.save();
      ctx.fillStyle = SHADE_DARK;
      ctx.fillRect(a.left, a.top, x1 - a.left, a.bottom - a.top);
      ctx.fillStyle = SHADE_LIGHT;
      ctx.fillRect(x1, a.top, x2 - x1, a.bottom - a.top);
      ctx.restore();
    },
    afterDatasetsDraw(chart: any) {
      const { ctx, chartArea: a, scales } = chart;
      const x = scales.x;
      const y = scales.y;
      ctx.save();
      ctx.strokeStyle = '#000';
      ctx.lineWidth = 1;
      ctx.beginPath();
      for (let k = 20; k <= 43; k++) {
        const v = k * 0.05;
        const px = Math.round(x.getPixelForValue(v)) + 0.5;
        if (px <= a.left + 1 || px >= a.right - 1) continue;
        const len = k % 4 === 0 ? 6 : 3;
        ctx.moveTo(px, a.bottom);
        ctx.lineTo(px, a.bottom - len);
        ctx.moveTo(px, a.top);
        ctx.lineTo(px, a.top + len);
      }
      const lo = Math.min(y.min, y.max);
      const hi = Math.max(y.min, y.max);
      for (let k = Math.ceil(lo / d.yMinor); k <= Math.floor(hi / d.yMinor); k++) {
        const v = k * d.yMinor;
        const py = Math.round(y.getPixelForValue(v)) + 0.5;
        if (py <= a.top + 1 || py >= a.bottom - 1) continue;
        const major = d.yTicks.some((t) => Math.abs(t - v) < 1e-6);
        const len = major ? 6 : 3;
        ctx.moveTo(a.left, py);
        ctx.lineTo(a.left + len, py);
        ctx.moveTo(a.right, py);
        ctx.lineTo(a.right - len, py);
      }
      ctx.stroke();
      ctx.lineWidth = 1.3;
      ctx.strokeRect(a.left, a.top, a.right - a.left, a.bottom - a.top);

      ctx.fillStyle = '#000';
      ctx.font = TICK_FONT;
      ctx.textAlign = 'right';
      ctx.textBaseline = 'middle';
      for (const t of d.yTicks) {
        ctx.fillText(d.fmt(t), a.left - 4, y.getPixelForValue(t) + 1);
      }
      if (d.xLabels) {
        ctx.textAlign = 'center';
        for (const t of C_TICKS) {
          ctx.fillText(t.toFixed(1), x.getPixelForValue(t), a.bottom + 16);
        }
        ctx.font = TITLE_FONT;
        ctx.fillText('C', (a.left + a.right) / 2, a.bottom + 31);
      }
      ctx.font = LETTER_FONT;
      ctx.textAlign = 'left';
      ctx.fillText(d.letter, a.left + 8, a.top + 14);
      d.title(ctx, (a.top + a.bottom) / 2);
      if (d.extra) d.extra(chart);
      ctx.restore();
    },
  };
}

function simpleTitle(text: string) {
  return (ctx: CanvasRenderingContext2D, cy: number) => {
    ctx.save();
    ctx.translate(12, cy);
    ctx.rotate(-Math.PI / 2);
    ctx.font = TITLE_FONT;
    ctx.textAlign = 'center';
    ctx.textBaseline = 'middle';
    ctx.fillText(text, 0, 0);
    ctx.restore();
  };
}

function reffTitle(ctx: CanvasRenderingContext2D, cy: number) {
  ctx.save();
  ctx.translate(12, cy);
  ctx.rotate(-Math.PI / 2);
  ctx.textBaseline = 'middle';
  ctx.textAlign = 'left';
  const big = TITLE_FONT;
  const small = `11px ${FONT}`;
  ctx.font = big;
  const wr = ctx.measureText('r').width;
  const wpc = ctx.measureText(' [pc]').width;
  ctx.font = small;
  const weff = ctx.measureText('eff').width;
  let xx = -(wr + weff + wpc) / 2;
  ctx.font = big;
  ctx.fillText('r', xx, 0);
  xx += wr;
  ctx.font = small;
  ctx.fillText('eff', xx, 4);
  xx += weff;
  ctx.font = big;
  ctx.fillText(' [pc]', xx, 0);
  ctx.restore();
}

function pentagon(ctx: CanvasRenderingContext2D, cx: number, cy: number, r: number) {
  ctx.beginPath();
  for (let i = 0; i < 5; i++) {
    const ang = -Math.PI / 2 + (i * 2 * Math.PI) / 5;
    const px = cx + r * Math.cos(ang);
    const py = cy + r * Math.sin(ang);
    if (i === 0) ctx.moveTo(px, py);
    else ctx.lineTo(px, py);
  }
  ctx.closePath();
}

function legendDraw(chart: any) {
  const { ctx, chartArea: a } = chart;
  const mx = a.left + 16;
  const tx = a.left + 24;
  const rows = [a.top + 31, a.top + 45, a.top + 58];
  ctx.save();
  ctx.fillStyle = BLUE;
  pentagon(ctx, mx, rows[0], 4.3);
  ctx.fill();
  ctx.strokeStyle = ORANGE_BAR;
  ctx.lineWidth = 1.4;
  ctx.beginPath();
  ctx.moveTo(mx - 4.5, rows[1]);
  ctx.lineTo(mx + 4.5, rows[1]);
  ctx.moveTo(mx, rows[1] - 4.5);
  ctx.lineTo(mx, rows[1] + 4.5);
  ctx.stroke();
  ctx.strokeStyle = RED;
  ctx.lineWidth = 1.6;
  pentagon(ctx, mx, rows[2], 4.3);
  ctx.stroke();
  ctx.fillStyle = '#000';
  ctx.font = `12px ${FONT}`;
  ctx.textAlign = 'left';
  ctx.textBaseline = 'middle';
  ctx.fillText('V-I \u2264 0.7', tx, rows[0]);
  ctx.fillText('0.7 < V-I \u2264 1.4', tx, rows[1]);
  ctx.fillText('1.4 < V-I \u2264 3.0', tx, rows[2]);
  ctx.restore();
}

const zoneLabels: [string, number, number][] = [
  ['Point', 1.215, 0.58],
  ['Compact', 1.401, 1.1],
  ['Extended', 1.613, 1.76],
];

function zoneDraw(chart: any) {
  const { ctx, scales } = chart;
  ctx.save();
  ctx.fillStyle = '#000';
  ctx.font = `14px ${FONT}`;
  ctx.textAlign = 'center';
  ctx.textBaseline = 'middle';
  for (const [t, c, s] of zoneLabels) {
    ctx.save();
    ctx.translate(scales.x.getPixelForValue(c), scales.y.getPixelForValue(s));
    ctx.rotate((-22 * Math.PI) / 180);
    ctx.fillText(t, 0, 0);
    ctx.restore();
  }
  ctx.restore();
}

function baseOptions(panel: number, yMin: number, yMax: number, reverse = false) {
  const [top, bottom] = PANEL_Y[panel];
  return {
    animation: false,
    responsive: false,
    maintainAspectRatio: false,
    events: [],
    layout: { padding: { left: PLOT_LEFT, right: W - PLOT_RIGHT, top, bottom: H - bottom } },
    plugins: { legend: { display: false }, tooltip: { enabled: false } },
    scales: {
      x: { type: 'linear', min: C_MIN, max: C_MAX, display: false },
      y: { type: 'linear', min: yMin, max: yMax, reverse, display: false },
    },
  };
}

function scatterSets(col: number) {
  const map = (arr: number[][]) => arr.map((p) => ({ x: p[0], y: p[col] }));
  return [
    {
      data: map(redPoints),
      pointStyle: 'circle',
      pointRadius: 2.3,
      pointBorderWidth: 1.3,
      pointBorderColor: RED,
      pointBackgroundColor: 'rgba(0,0,0,0)',
      order: 0,
    },
    {
      data: map(bluePoints.concat(blueFaint)),
      pointStyle: 'rect',
      pointRadius: 1.5,
      pointBorderWidth: 0,
      pointBackgroundColor: BLUE,
      pointBorderColor: BLUE,
      order: 1,
    },
    {
      data: map(orangePoints.concat(orangeFaint)),
      pointStyle: 'cross',
      pointRadius: 2.4,
      pointBorderWidth: 1,
      pointBorderColor: ORANGE_PT,
      pointBackgroundColor: ORANGE_PT,
      order: 2,
    },
  ];
}

function panelA() {
  return {
    type: 'scatter',
    data: { datasets: scatterSets(1) },
    options: baseOptions(0, 22.07, 27.27, true),
    plugins: [decor({ yTicks: V_TICKS, yMinor: 0.5, fmt: (v) => String(v), letter: '(a)', title: simpleTitle('V') })],
  };
}

function panelB() {
  return {
    type: 'scatter',
    data: { datasets: scatterSets(2) },
    options: baseOptions(1, -0.375, 2.395),
    plugins: [
      decor({ yTicks: SHARP_TICKS, yMinor: 0.25, fmt: (v) => v.toFixed(1), letter: '(b)', title: simpleTitle('Sharpness'), extra: zoneDraw }),
    ],
  };
}

function panelC() {
  return {
    type: 'scatter',
    data: { datasets: scatterSets(3) },
    options: baseOptions(2, -2.8, 50),
    plugins: [decor({ yTicks: REFF_TICKS, yMinor: 5, fmt: (v) => String(v), letter: '(c)', title: reffTitle, extra: legendDraw })],
  };
}

function panelD() {
  const opts: any = baseOptions(3, -9, 164);
  return {
    type: 'line',
    data: {
      datasets: [
        {
          data: histPoints(redCounts),
          stepped: true,
          fill: 'origin',
          backgroundColor: RED,
          borderColor: RED,
          borderWidth: 1,
          pointRadius: 0,
          order: 0,
        },
        {
          data: histPoints(blueCounts),
          stepped: true,
          fill: 'origin',
          backgroundColor: hatchPattern('#2f62ff'),
          borderColor: BLUE,
          borderWidth: 1.5,
          pointRadius: 0,
          order: 1,
        },
        {
          data: histPoints(orangeCounts),
          stepped: true,
          fill: 'origin',
          backgroundColor: ORANGE_BAR,
          borderColor: '#000',
          borderDash: [5, 3],
          borderWidth: 1.3,
          pointRadius: 0,
          order: 2,
        },
      ],
    },
    options: opts,
    plugins: [decor({ yTicks: N_TICKS, yMinor: 10, fmt: (v) => String(v), letter: '(d)', title: simpleTitle('N'), xLabels: true })],
  };
}

function ChartCanvas({ make }: { make: () => any }) {
  const ref = useRef<HTMLCanvasElement>(null);
  useEffect(() => {
    const chart = new Chart(ref.current as HTMLCanvasElement, make());
    return () => chart.destroy();
  }, []);
  return (
    <canvas
      ref={ref}
      width={W}
      height={H}
      style={{ position: 'absolute', left: 0, top: 0, width: W, height: H }}
    />
  );
}

export default function App() {
  return (
    <div style={{ position: 'absolute', left: 0, top: 0, width: W, height: H, background: '#fff', overflow: 'hidden' }}>
      <ChartCanvas make={panelA} />
      <ChartCanvas make={panelB} />
      <ChartCanvas make={panelC} />
      <ChartCanvas make={panelD} />
    </div>
  );
}
